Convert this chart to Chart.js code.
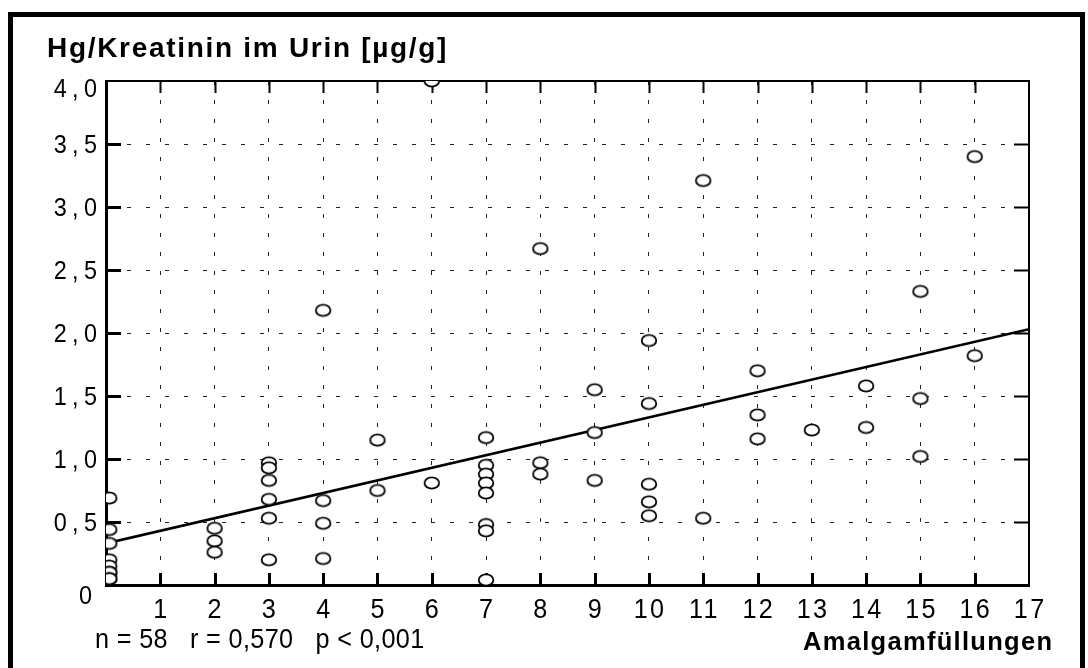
<!DOCTYPE html>
<html>
<head>
<meta charset="utf-8">
<script src="https://cdn.jsdelivr.net/npm/chart.js@4.4.1/dist/chart.umd.min.js"></script>
<style>
  html, body { margin: 0; padding: 0; background: #fff; }
  #frame { position: absolute; left: 8px; top: 12px; width: 1067px; height: 700px; border: 5px solid #000; }
  #chart { position: absolute; left: 0; top: 0; }
</style>
</head>
<body>
<div id="frame"></div>
<canvas id="chart" width="1088" height="668"></canvas>
<script>
// Werte (Amalgamfüllungen / Hg-Kreatinin)
const fillings = [
    0.06, 0.06, 0.06, 0.06, 0.06, 0.06, 0.06, 0.06, 0.06,
    2, 2, 2,
    3, 3, 3, 3, 3, 3,
    4, 4, 4, 4,
    5, 5,
    6, 6,
    7, 7, 7, 7, 7, 7, 7, 7,
    8, 8, 8,
    9, 9, 9,
    10, 10, 10, 10, 10,
    11, 11,
    12, 12, 12,
    13,
    14, 14,
    15, 15, 15,
    16, 16
];
const hgValues = [
    0.69, 0.44, 0.33, 0.20, 0.15, 0.10, 0.10, 0.05, 0.05,
    0.45, 0.35, 0.26,
    0.97, 0.93, 0.83, 0.68, 0.53, 0.20,
    2.18, 0.67, 0.49, 0.21,
    1.15, 0.75,
    4.00, 0.81,
    1.17, 0.95, 0.88, 0.81, 0.73, 0.48, 0.43, 0.04,
    2.67, 0.97, 0.88,
    1.55, 1.21, 0.83,
    1.94, 1.44, 0.80, 0.66, 0.55,
    3.21, 0.53,
    1.70, 1.35, 1.16,
    1.23,
    1.58, 1.25,
    2.33, 1.48, 1.02,
    3.40, 1.82
];

// Regressionsgerade
const regX = [0, 17];
const regY = [0.33, 2.03];

const xTickLabels = ['', '1', '2', '3', '4', '5', '6', '7', '8', '9', '10', '11', '12', '13', '14', '15', '16', '17'];
const yTickLabels = ['0', '0,5', '1,0', '1,5', '2,0', '2,5', '3,0', '3,5', '4,0'];

const titleText = 'Hg/Kreatinin im Urin [µg/g]';
const statsText = 'n = 58   r = 0,570   p < 0,001';
const xTitleText = 'Amalgamfüllungen';

const SANS = '"Liberation Sans", Arial, sans-serif';

// Kreis-Symbol (etwas breiter als hoch)
const marker = document.createElement('canvas');
marker.width = 20;
marker.height = 16;
(() => {
    const c = marker.getContext('2d');
    c.beginPath();
    c.ellipse(10, 8, 7.3, 5.6, 0, 0, Math.PI * 2);
    c.fillStyle = '#fff';
    c.fill();
    c.lineWidth = 1.8;
    c.strokeStyle = '#000';
    c.stroke();
})();

// leicht gestauchte Schrift mit Sperrung
function squeezedText(ctx, text, x, y, font, align, spacing, sx) {
    ctx.save();
    ctx.font = font;
    ctx.letterSpacing = spacing + 'px';
    ctx.textAlign = 'left';
    ctx.textBaseline = 'alphabetic';
    ctx.translate(x, y);
    ctx.scale(sx, 1);
    const w = ctx.measureText(text).width - spacing;
    const dx = align === 'right' ? -w : align === 'center' ? -w / 2 : 0;
    ctx.fillText(text, dx, 0);
    ctx.restore();
}

const frameAndTicks = {
    id: 'frameAndTicks',
    beforeDatasetsDraw(chart) {
        const { ctx, chartArea: a } = chart;
        const xs = chart.scales.x, ys = chart.scales.y;
        const line = (x1, y1, x2, y2, w) => {
            ctx.lineWidth = w;
            ctx.beginPath();
            ctx.moveTo(x1, y1);
            ctx.lineTo(x2, y2);
            ctx.stroke();
        };
        ctx.save();
        ctx.strokeStyle = '#000';
        // obere und rechte Rahmenlinie
        line(a.left, a.top, a.right + 1, a.top, 2);
        line(a.right, a.top, a.right, a.bottom, 2);
        // Striche nach innen
        xs.ticks.forEach(t => {
            if (t.value <= 0 || t.value >= 17) return;
            const px = Math.round(xs.getPixelForValue(t.value)) + 0.5;
            line(px, a.bottom, px, a.bottom - 12, 3);
            line(px, a.top, px, a.top + 12, 2);
        });
        ys.ticks.forEach(t => {
            if (t.value <= 0 || t.value >= 4) return;
            const py = Math.round(ys.getPixelForValue(t.value)) + 0.5;
            line(a.left, py, a.left + 15, py, 3);
            line(a.right, py, a.right - 15, py, 2);
        });
        ctx.restore();
    },
    afterDraw(chart) {
        const ctx = chart.ctx;
        const xs = chart.scales.x, ys = chart.scales.y;
        ctx.save();
        ctx.fillStyle = '#000';

        // Achsenbeschriftungen
        xs.ticks.forEach((t, i) => {
            const label = xTickLabels[i];
            if (!label) return;
            squeezedText(ctx, label, xs.getPixelForValue(t.value), 618, '28px ' + SANS, 'center', 2.5, 0.9);
        });
        ys.ticks.forEach((t, i) => {
            let py = ys.getPixelForValue(t.value) + 9;
            let right = ys.left + 97;
            if (i === 0) { py += 10; right -= 5; }
            if (i === ys.ticks.length - 1) py += 7;
            squeezedText(ctx, yTickLabels[i], right, py, '26px ' + SANS, 'right', 6, 0.9);
        });

        ctx.textAlign = 'left';
        ctx.textBaseline = 'alphabetic';
        ctx.letterSpacing = '1.7px';
        ctx.font = 'bold 28px ' + SANS;
        ctx.fillText(titleText, 47, 57);

        squeezedText(ctx, statsText, 95, 648, '28px ' + SANS, 'left', 0.4, 0.9);
        squeezedText(ctx, xTitleText, 803, 650, 'bold 25.5px ' + SANS, 'left', 1.3, 1);
        ctx.restore();
    }
};

new Chart(document.getElementById('chart'), {
    type: 'scatter',
    data: {
        datasets: [
            {
                data: fillings.map((x, i) => ({ x: x, y: hgValues[i] })),
                pointStyle: marker,
                pointRadius: 8,
                pointHoverRadius: 8
            },
            {
                type: 'line',
                data: regX.map((x, i) => ({ x: x, y: regY[i] })),
                borderColor: '#000',
                borderWidth: 2.6,
                pointRadius: 0,
                fill: false
            }
        ]
    },
    options: {
        responsive: false,
        animation: false,
        devicePixelRatio: 1,
        layout: { padding: { top: 81, right: 59, left: 0, bottom: 0 } },
        plugins: {
            legend: { display: false },
            tooltip: { enabled: false },
            title: { display: false }
        },
        scales: {
            x: {
                type: 'linear',
                min: 0,
                max: 17,
                afterFit: s => { s.height = 83; },
                grid: { color: '#222', lineWidth: 1, drawTicks: false },
                border: { display: true, color: '#000', width: 3, dash: [4, 15] },
                ticks: { stepSize: 1, autoSkip: false, maxRotation: 0, display: false }
            },
            y: {
                min: 0,
                max: 4,
                afterFit: s => { s.width = 106; },
                grid: { color: '#222', lineWidth: 1, drawTicks: false },
                border: { display: true, color: '#000', width: 3, dash: [4, 15] },
                ticks: { stepSize: 0.5, display: false }
            }
        }
    },
    plugins: [frameAndTicks]
});
</script>
</body>
</html>
